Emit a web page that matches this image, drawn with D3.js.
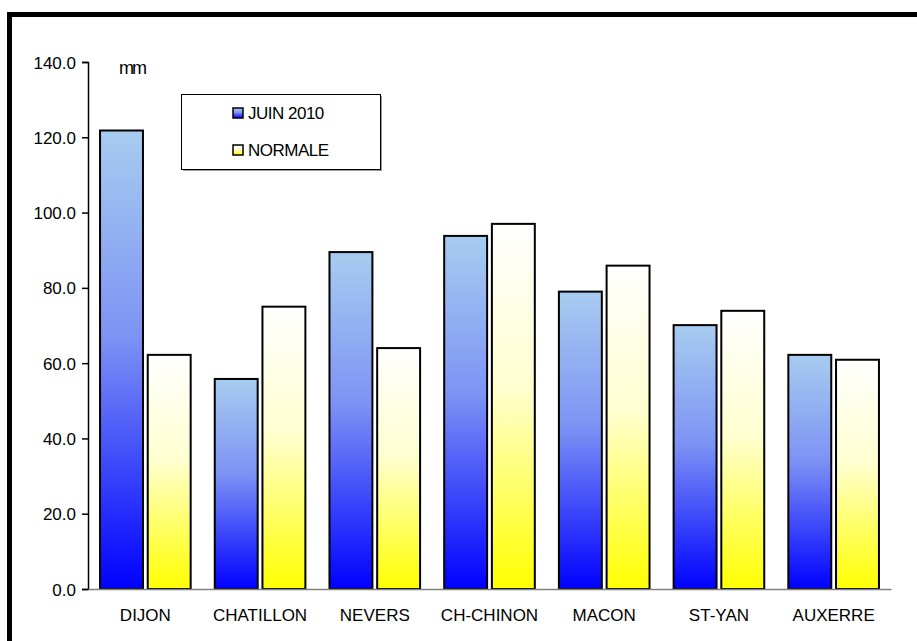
<!DOCTYPE html>
<head>
  <meta charset="utf-8">
  <script src="https://d3js.org/d3.v7.min.js"></script>
  <style>
    body { margin: 0; background: #fff; }
    svg { width: 917px; height: 641px; display: block; }
    text { font-family: "Liberation Sans", Arial, sans-serif; fill: #000; }
  </style>
</head>

<body>
  <svg></svg>

  <script>
    const width = 917;
    const height = 641;

    // stations and monthly rainfall (mm)
    const stations = ['DIJON', 'CHATILLON', 'NEVERS', 'CH-CHINON', 'MACON', 'ST-YAN', 'AUXERRE'];
    const juin2010 = [121.8, 55.8, 89.5, 93.8, 79.0, 70.1, 62.2];
    const normale = [62.2, 75.0, 64.0, 97.0, 85.9, 73.9, 60.9];
    const seriesNames = ['JUIN 2010', 'NORMALE'];
    const yTicks = [0, 20, 40, 60, 80, 100, 120, 140];

    const svg = d3.select('svg');
    const font = '"Liberation Sans", Arial, sans-serif';

    /*****************************************************
    ** gradients
    ******************************************************/
    const defs = svg.append('defs');
    const grads = [
      { id: 'gBlue', stops: [['0%', '#a8ccf0'], ['45%', '#7d93f4'], ['100%', '#0000ff']] },
      { id: 'gYellow', stops: [['0%', '#ffffff'], ['45%', '#ffffd0'], ['100%', '#ffff00']] }
    ];
    grads.forEach(g => {
      const lg = defs.append('linearGradient')
        .attr('id', g.id)
        .attr('x1', 0).attr('y1', 0).attr('x2', 0).attr('y2', 1);
      g.stops.forEach(s => lg.append('stop').attr('offset', s[0]).attr('stop-color', s[1]));
    });

    // outer frame (top and left only visible)
    svg.append('rect')
      .attr('x', 9.5).attr('y', 14.5)
      .attr('width', width + 20).attr('height', height + 20)
      .attr('fill', 'none').attr('stroke', '#000').attr('stroke-width', 5);

    const x0 = 88, x1 = 891;
    const y = d3.scaleLinear().domain([0, 140]).range([589, 62]);
    const x = d3.scaleBand().domain(stations).range([x0, x1]);
    const bw = x.bandwidth();
    const xs = d3.scaleBand().domain(seriesNames).range([bw * 0.105, bw * 0.895]).paddingInner(0.1);

    // bars
    const rows = stations.map((s, i) => ({ s, vals: [juin2010[i], normale[i]] }));
    const groups = svg.selectAll('g.st').data(rows).enter().append('g')
      .attr('class', 'st')
      .attr('transform', d => `translate(${x(d.s)}, 0)`);

    groups.selectAll('rect')
      .data(d => d.vals.map((v, k) => ({ v, k })))
      .enter().append('rect')
      .attr('x', d => xs(seriesNames[d.k]))
      .attr('width', xs.bandwidth())
      .attr('y', d => y(d.v))
      .attr('height', d => y(0) - y(d.v))
      .attr('fill', d => d.k === 0 ? 'url(#gBlue)' : 'url(#gYellow)')
      .attr('stroke', '#000')
      .attr('stroke-width', 2);

    // y axis
    const yAxis = d3.axisLeft(y).tickValues(yTicks).tickSize(6).tickFormat(d3.format('.1f'));
    const ya = svg.append('g').attr('transform', `translate(${x0}, 0)`).call(yAxis);
    ya.select('.domain').attr('stroke', '#000').attr('stroke-width', 1.5);
    ya.selectAll('.tick line').attr('stroke', '#000').attr('stroke-width', 1.5);
    ya.selectAll('.tick text').attr('x', -12).attr('dy', '0.36em')
      .style('font-size', '17px').style('font-family', font);

    // x axis
    const xAxis = d3.axisBottom(x).tickSize(0).tickPadding(20);
    const xa = svg.append('g').attr('transform', `translate(0, ${y(0)})`).call(xAxis);
    xa.select('.domain').attr('stroke', '#808080').attr('stroke-width', 1.5);
    xa.selectAll('.tick text')
      .style('font-size', '17px').style('font-family', font)
      .attr('dy', '0.71em');

    // unit
    svg.append('text').attr('x', 132).attr('y', 74).attr('text-anchor', 'middle')
      .style('font-size', '18px').style('letter-spacing', '-2px').text('mm');

    // legend
    const lg = svg.append('g').attr('transform', 'translate(181, 94)');
    lg.append('rect').attr('x', 2).attr('y', 2).attr('width', 199).attr('height', 75).attr('fill', '#999');
    lg.append('rect').attr('x', 0.5).attr('y', 0.5).attr('width', 199).attr('height', 75)
      .attr('fill', '#fff').attr('stroke', '#000').attr('stroke-width', 1);
    seriesNames.forEach((n, k) => {
      const yy = 14 + k * 37;
      lg.append('rect').attr('x', 52).attr('y', yy).attr('width', 10).attr('height', 10)
        .attr('fill', k === 0 ? 'url(#gBlue)' : 'url(#gYellow)')
        .attr('stroke', '#000').attr('stroke-width', 1.5);
      lg.append('text').attr('x', 67).attr('y', yy + 11)
        .style('font-size', '17px').style('letter-spacing', '-0.5px').text(n);
    });
  </script>
</body>
